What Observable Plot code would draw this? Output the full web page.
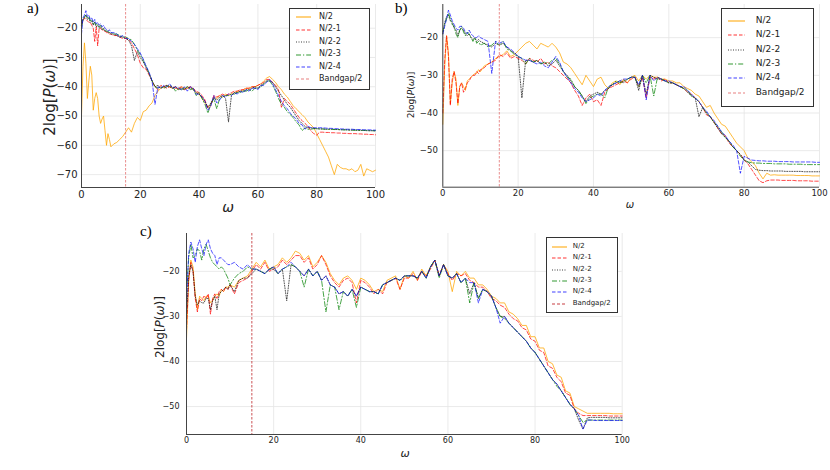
<!DOCTYPE html>
<html><head><meta charset="utf-8">
<script src="https://cdn.jsdelivr.net/npm/d3@7"></script>
<script src="https://cdn.jsdelivr.net/npm/@observablehq/plot@0.6"></script>
<style>
body{margin:0;background:#fff;}
#root{position:relative;width:830px;height:470px;overflow:hidden;font-family:"DejaVu Sans",sans-serif;color:#222;}
.abs{position:absolute;}
.plab{position:absolute;font-family:"Liberation Serif",serif;font-size:15px;color:#000;line-height:1;}
.ylab{position:absolute;transform:translate(-50%,-50%) rotate(-90deg);white-space:nowrap;line-height:1;}
.xlab{position:absolute;transform:translate(-50%,-50%);font-style:italic;line-height:1;}
.legend{position:absolute;border:1px solid #333;background:#fff;box-sizing:border-box;}
.lrow{position:absolute;white-space:nowrap;line-height:1;}
</style></head><body><div id="root"></div>
<script>
// ---------------- data ----------------
const omega = [0,0.5,1,1.5,2,2.5,3,3.5,4,4.5,5,5.5,6,6.5,7,7.5,8,8.5,9,9.5,10,
11,12,13,14,15,16,17,18,19,20,
21,22,23,24,25,26,27,28,29,30,
31,32,33,34,35,36,37,38,39,40,
41,42,43,44,45,46,47,48,49,50,
51,52,53,54,55,56,57,58,59,60,
61,62,63,64,65,66,67,68,69,70,
71,72,73,74,75,76,77,78,79,80,
81,82,83,84,85,86,87,88,89,90,
91,92,93,94,95,96,97,98,99,100];

const seriesNames = ["N/2","N/2-1","N/2-2","N/2-3","N/2-4"];
const bandgapName = "Bandgap/2";
const bandgapHalf = [15];
const xTickValues = [0,20,40,60,80,100];
const aYTicks = [-70,-60,-50,-40,-30,-20];
const bYTicks = [-50,-40,-30,-20];
const cYTicks = [-50,-40,-30,-20];

// panel a
const aN2 = [-50,-33,-25,-32,-44,-38,-33,-36,-48,-44,-42,-44,-50,-52.5,-51,-50,-55,-60,-56,-58,-60.5,
-59.5,-59,-58,-57,-55.5,-54,-55.5,-52.5,-50.5,-51.5,
-48.5,-48,-46.5,-45.5,-43,-41.5,-40.5,-40,-39.5,-40,
-40.5,-40,-41,-40,-40.5,-40.5,-40,-41,-42,-42.5,
-44,-45.5,-47,-46,-43.5,-44,-43,-43.5,-42.5,-43,
-42.5,-42,-41.5,-41.5,-41,-40.5,-40.5,-40,-40,-39.5,
-39,-38,-37,-36.5,-37.5,-38.5,-40,-41,-42.5,-43.5,
-45,-46.5,-47.5,-48.5,-49.5,-50.5,-52,-53,-54,-56,
-58,-60,-62,-64,-67,-70,-66.5,-67.5,-68,-68,
-68.5,-68,-69,-68.5,-66.5,-70.5,-68,-68.5,-69,-68.5];
const aN2m1 = [-19,-17.5,-16.5,-17,-17.5,-18,-18,-19,-20,-24.5,-19.5,-26,-20,-20,-20.5,-21,-21,-21.5,-21.5,-22,-22,
-22.5,-22.5,-23,-23.5,-23.5,-24,-25,-27,-29,-32,
-33.5,-34,-36,-38,-40,-41,-39.5,-40,-40.5,-40,
-40,-40.5,-40.5,-40,-41,-40.5,-40,-40.5,-41.5,-42,
-43,-44.5,-47.5,-46.5,-43,-43.5,-43,-42.5,-43,-42.5,
-42,-41.5,-41.5,-41,-41,-40.5,-40.5,-40,-40,-39.5,
-39,-38.5,-37.5,-37.5,-38.5,-39.5,-41,-47,-44,-45,
-46,-47.5,-49,-50.5,-51.5,-52.5,-53.5,-55,-56,-56.5,
-55.5,-55.5,-55.6,-55.6,-55.7,-55.7,-55.8,-55.8,-55.9,-55.9,
-56,-56,-56,-56.1,-56.1,-56.2,-56.2,-56.3,-56.3,-56.4];
const aN2m2 = [-19,-17,-16.5,-15.5,-17,-16.5,-18,-17.5,-19,-18,-19.5,-19,-20,-19.5,-20.5,-20,-21,-21,-21.5,-21.5,-22,
-22,-22.5,-23,-23,-23.5,-24,-26,-31,-28,-30,
-31.5,-33.5,-35.5,-38,-40,-39.5,-40.5,-40,-39.5,-40,
-40.5,-40,-41,-40.5,-41,-40,-40.5,-41,-42,-42.5,
-43.5,-45,-47,-45.5,-44,-44.5,-43.5,-43,-44,-52,
-43,-42,-42,-41.5,-41.5,-41,-41,-40.5,-40,-40.5,
-39.5,-39,-38,-38,-38.5,-40,-41.5,-43,-44.5,-46,
-47,-48.5,-50,-51.5,-52.5,-53.5,-54,-54,-54.2,-54.3,
-54.4,-54.4,-54.5,-54.5,-54.5,-54.6,-54.6,-54.7,-54.7,-54.7,
-54.8,-54.8,-54.8,-54.9,-54.9,-54.9,-55,-55,-55,-55.1];
const aN2m3 = [-20,-17,-16,-15.5,-16.5,-16,-17.5,-17,-18.5,-18,-19,-18.5,-19.5,-19,-20,-20.5,-20.5,-21,-21,-21.5,-21.5,
-22,-22,-22.5,-23,-23,-23.5,-24,-25.5,-27.5,-29,
-31,-33,-35.5,-38,-40,-40.5,-40,-40.5,-40,-39.5,
-40,-41.5,-40.5,-41,-40.5,-40,-41,-40.5,-43,-42,
-44,-46,-49,-46,-44,-47.5,-44,-43.5,-43,-43,
-42.5,-42.5,-42,-42,-41.5,-41.5,-41,-41.5,-40.5,-40.5,
-40,-39,-38,-38,-39.5,-41.5,-44,-46,-47,-48.5,
-49.5,-50.5,-52,-53,-55,-54,-54.5,-54.5,-54.3,-54.3,
-54.4,-54.4,-54.5,-54.5,-54.5,-54.6,-54.6,-54.6,-54.7,-54.7,
-54.7,-54.8,-54.8,-54.8,-54.9,-54.9,-54.9,-55,-55,-55];
const aN2m4 = [-22,-16.5,-15.5,-14,-16,-15.5,-17,-16.5,-18,-17,-18.5,-18,-19,-18.5,-19.5,-19,-20,-20.5,-21,-20.5,-21.5,
-21.5,-22,-23,-22.5,-23.5,-23.5,-24.5,-25.5,-27,-28.5,
-30.5,-33,-35,-38,-46,-40,-40.5,-39.5,-40,-39,
-40.5,-40,-40.5,-41,-40,-41.5,-40,-40.5,-42.5,-42.5,
-43.5,-45,-48,-46.5,-43,-45.5,-44.5,-43,-43.5,-42.5,
-43,-42,-42.5,-41.5,-42,-41,-41.5,-40.5,-40.5,-41,
-39.5,-39.5,-38.5,-37.5,-39,-41,-43,-45,-46.5,-47.5,
-49,-50,-51,-52.5,-53,-54.5,-53.5,-54,-54,-54,
-54,-54,-54.1,-54.2,-54.2,-54.3,-54.3,-54.4,-54.4,-54.5,
-54.5,-54.5,-54.6,-54.6,-54.6,-54.7,-54.7,-54.7,-54.8,-54.8];

// panel b
const bN2 = [-43,-28,-19.5,-24,-37.5,-32,-29,-31,-38,-33,-32,-33,-34,-31.5,-31,-30.5,-30,-29.5,-29.5,-28.5,-29,
-27.5,-27,-26.5,-25.5,-25,-24.5,-23.5,-25,-24.5,-23.5,
-22.5,-21.5,-21,-22,-23,-21.5,-22,-22.5,-21.5,-22.5,
-24,-26.5,-27,-28,-29.5,-31,-32.5,-30,-31.5,-33,
-31,-30.5,-32.5,-33.5,-32,-31.5,-32.5,-31,-32,-30.5,
-30,-31.5,-30,-31,-30,-30.5,-30.5,-31,-31,-31.5,
-31.5,-32,-32,-33,-33.5,-34,-35,-35.5,-37,-38.5,
-38,-40,-41.5,-43,-43.5,-45,-46.5,-48,-49,-50,
-52,-53,-54,-56,-57.5,-56,-56.5,-56.4,-56.5,-56.5,
-56.5,-56.5,-56.5,-56.6,-56.6,-56.6,-56.6,-56.7,-56.7,-56.7];
const bN2m1 = [-40,-26,-19.5,-25,-38,-31,-29,-32,-37.5,-33,-32,-34.5,-33.5,-32,-31.5,-30.5,-30,-30,-29,-29.5,-28.5,
-28,-27,-26.5,-26,-24.5,-25,-24,-25.5,-25,-25.5,
-26,-27,-25.5,-26,-26.5,-25.5,-27,-26.5,-27.5,-28,
-29,-30,-31,-32,-34,-35.5,-38,-36,-35,-37,
-36.5,-38,-34.5,-33.5,-33,-32.5,-32,-31.5,-32,-31,
-30.5,-33,-30.5,-36,-30.5,-31,-30.5,-31.5,-31,-32,
-32,-32.5,-33,-33.5,-34.5,-35,-36,-37,-38.5,-40.5,
-41,-42.5,-44,-45.5,-46,-48,-49,-50,-51,-52.5,
-53.5,-55,-56.5,-58,-58.5,-58,-57.8,-57.8,-57.8,-57.9,
-57.9,-57.9,-57.9,-58,-58,-58,-58,-58.1,-58.1,-58.1];
const bN2m2 = [-19,-16,-14.5,-14,-15.5,-16,-17.5,-18,-19.5,-18,-17.5,-18,-19,-19.5,-19,-20,-20.5,-20,-21,-20.5,-21,
-21.5,-22,-22.5,-21.5,-22,-21.5,-22.5,-23.5,-24,-25,
-36,-26,-26,-26.5,-26,-27,-26.5,-27.5,-27,-26,
-27.5,-29,-30,-31.5,-33,-34,-35.5,-37,-35.5,-35,
-34.5,-35,-34,-33.5,-32.5,-32,-31.5,-32,-31,-30.5,
-30.5,-34,-30,-35,-30,-30.5,-31,-31,-31.5,-32,
-32,-32.5,-33,-33.5,-34.5,-35.5,-36,-41,-38.5,-40,
-41,-42.5,-44,-45.5,-46.5,-47.5,-49,-50,-51,-52.5,
-53,-54,-55,-55.2,-55.3,-55.3,-55.4,-55.4,-55.4,-55.4,
-55.5,-55.5,-55.5,-55.5,-55.5,-55.6,-55.6,-55.6,-55.6,-55.6];
const bN2m3 = [-18.5,-16.5,-15,-13.5,-15,-16.5,-17,-19,-20,-18,-17,-18.5,-19.5,-18.5,-19,-20,-21,-20,-21.5,-21,-22,
-21.5,-22.5,-22,-21,-22,-21,-23,-23.5,-24.5,-25,
-25.5,-27,-25.5,-26.5,-26,-27,-26.5,-27,-26,-25.5,
-27,-29,-30.5,-31,-33,-34,-35.5,-37.5,-36,-35.5,
-35,-35,-36,-33,-32.5,-31.5,-32,-31.5,-31,-30.5,
-30.5,-33,-30,-32,-30,-35.5,-30.5,-31,-31.5,-32,
-32,-32.5,-33,-33.5,-34,-35.5,-36,-37,-38.5,-40,
-41,-42.5,-43.5,-45,-46.5,-47.5,-49,-50,-51.5,-52.5,
-53,-53.2,-53.3,-53.3,-53.4,-53.4,-53.4,-53.5,-53.5,-53.5,
-53.5,-53.6,-53.6,-53.6,-53.6,-53.7,-53.7,-53.7,-53.7,-53.7];
const bN2m4 = [-19,-17,-15,-12.7,-14,-15.5,-16.5,-17.5,-18,-17,-17,-17.5,-18.5,-19,-18,-19,-19.5,-20,-20,-19.5,-20,
-20.5,-21,-29.5,-21,-21.5,-21,-22.5,-23,-24,-25,
-25.5,-26,-26,-26.5,-27,-26.5,-27.5,-28,-26.5,-25,
-26.5,-29,-30.5,-32,-33.5,-34.5,-36,-37,-36.5,-36,
-35,-35.5,-34,-33,-32.5,-32,-31.5,-31,-31,-30.5,
-30.5,-32.5,-30,-36.5,-30,-31.5,-30.5,-31,-31.5,-31.5,
-32,-32.5,-33,-33,-34,-35,-36,-37,-38.5,-39.5,
-41,-42,-43.5,-45,-46,-47.5,-48.5,-50,-56,-51.5,
-52,-52.5,-52.6,-52.7,-52.7,-52.8,-52.8,-52.8,-52.9,-52.9,
-52.9,-52.9,-53,-53,-53,-53,-53,-53,-53.1,-53.1];

// panel c
const cN2 = [-35,-22,-17.5,-19,-25,-28.5,-25.5,-26,-26.5,-25.5,-25.5,-27,-26.5,-25.5,-25,-25.5,-24,-24.5,-23.5,-23.5,-23,
-23.5,-22,-21.5,-21,-19.5,-18,-19,-17.5,-19.5,-19,
-18.5,-17,-18,-17,-15.5,-16,-17.5,-16.5,-19,-18,
-16.5,-18,-20.5,-22,-23,-21.5,-21,-22,-24,-21.5,
-22,-23,-24.5,-24,-24.5,-22,-21.5,-21,-24,-21,
-21.5,-20,-22,-19.5,-21,-19,-17.5,-21,-18.5,-20,
-24.5,-20,-21,-20,-21.5,-21.5,-23,-23,-24,-25.5,
-26,-27,-27,-29,-29.5,-30.5,-32,-32,-34.5,-34.5,
-37,-37,-40,-40.5,-43,-43.5,-46.5,-47,-50,-50.5,
-51,-51.5,-51.5,-51.5,-51.5,-51.5,-51.5,-51.6,-51.6,-51.6];
const cN2m1 = [-33,-22,-18,-20,-26,-29,-26,-26.5,-25.5,-26,-25,-29.5,-26,-25,-26,-24.5,-24,-24.5,-23.5,-24,-23,
-25,-22.5,-22,-21.5,-20,-18.5,-19.5,-18,-20,-19.5,
-19,-17.5,-18.5,-17.5,-16.5,-16.5,-18,-17,-19.5,-18.5,
-16.5,-18.5,-21,-22.5,-23.5,-22,-21.5,-22.5,-27,-22,
-22.5,-23.5,-25,-24,-25,-22.5,-22,-21.5,-24,-21.5,
-21.5,-20.5,-22,-20,-21,-19.5,-17.5,-21,-18.5,-20.5,
-22,-20.5,-21,-20.5,-22,-22.5,-23.5,-23.5,-24.5,-26,
-26.5,-27.5,-28,-29.5,-30.5,-31,-32.5,-33,-35,-35.5,
-37.5,-38,-41,-41.5,-43.5,-44.5,-47,-47.5,-50.5,-51.5,
-52,-52,-52,-52,-52,-52,-52.1,-52.1,-52.1,-52.1];
const cN2m2 = [-30,-21,-18.5,-20,-25.5,-27.5,-26.5,-27,-27,-26,-26,-28.5,-26.5,-25.5,-28.5,-25,-24.5,-24,-23.5,-24,-23,
-24.5,-22,-21.5,-21.5,-20.5,-19.5,-20,-20.5,-19.5,-19.5,
-20.5,-19.5,-26.5,-18.5,-19,-20,-21,-19.5,-21,-20,
-22,-21,-23,-23.5,-25,-24.5,-25.5,-24,-25.5,-23.5,
-24,-24.5,-24.5,-25,-23,-22.5,-22,-21.5,-22,-21,
-21,-21,-21.5,-20,-21.5,-19,-17.5,-21,-18.5,-21,
-21.5,-20.5,-22.5,-21.5,-25,-22.5,-26,-24,-24.5,-25.5,
-28,-30,-30,-31.5,-32.5,-33.5,-34.5,-35.5,-37,-38,
-39.5,-41,-42.5,-44,-45,-46.5,-48,-49.5,-50.5,-53,
-55,-52.5,-52.4,-52.4,-52.4,-52.4,-52.5,-52.5,-52.5,-52.5];
const cN2m3 = [-25,-17,-14,-17,-16.5,-15,-15.5,-17.5,-15,-14,-15.5,-17,-18,-18.5,-19,-19.5,-19,-19.5,-20.5,-21.5,-23,
-21.5,-20.5,-20,-19,-19.5,-19.5,-20,-20.5,-19.5,-19,
-20.5,-19.5,-19,-18.5,-19,-20,-23.5,-19.5,-21,-20,
-22,-29,-23,-23.5,-28.5,-24.5,-25.5,-24,-28,-23.5,
-24,-24.5,-24.5,-25,-23,-22.5,-22,-21.5,-22,-21,
-21,-21,-21.5,-20,-21.5,-19,-17.5,-21.5,-18.5,-21,
-21.5,-20.5,-22.5,-21.5,-27,-22.5,-26,-24,-24.5,-25.5,
-28,-30,-30.5,-31.5,-32.5,-33.5,-34.5,-35.5,-37,-38,
-39.5,-41,-42.5,-44,-45.5,-46.5,-48,-49.5,-50.5,-52,
-53.5,-53,-53,-53,-53,-53,-53,-53,-53,-53];
const cN2m4 = [-27,-16,-13.5,-15,-18,-14.5,-13,-15,-16.5,-14,-13,-15,-16,-16.5,-18.5,-17,-17,-17.5,-18,-18.5,-18.5,
-18,-19,-19.5,-18.5,-19.5,-19.5,-20,-20.5,-19.5,-19,
-20.5,-19.5,-19,-18,-19,-20,-21,-19.5,-21,-20,
-22,-21,-23,-23.5,-25,-24.5,-25.5,-24,-25.5,-23.5,
-24,-24.5,-24.5,-25,-23,-22.5,-22,-21.5,-22,-21,
-21,-21,-21.5,-20,-21.5,-19,-17.5,-21,-18.5,-21,
-21.5,-20.5,-22.5,-21.5,-22.5,-22.5,-27,-24,-24.5,-25.5,
-28,-31.5,-30,-31.5,-32.5,-33.5,-34.5,-35.5,-37,-38,
-39.5,-41,-42.5,-44,-45,-46.5,-48,-49.5,-50.5,-52,
-55,-53,-53,-53.1,-53.1,-53.1,-53.1,-53.1,-53.1,-53.1];

// ---------------- styling ----------------
const seriesStyle = [
  {stroke:"#FFA500", dash:null, op:0.85},
  {stroke:"#FF0000", dash:"3.5,2", op:0.8},
  {stroke:"#000000", dash:"1,1.5", op:0.75},
  {stroke:"#008000", dash:"5,2,1.2,2", op:0.8},
  {stroke:"#0000FF", dash:"3.5,2", op:0.75}
];

const root = document.getElementById("root");
function el(tag, cls, css, html){
  const e = document.createElement(tag);
  if (cls) e.className = cls;
  Object.assign(e.style, css||{});
  if (html != null) e.innerHTML = html;
  root.appendChild(e);
  return e;
}

function panel(cfg){
  const marks = [
    Plot.gridX(xTickValues, {stroke:"#e4e4e4", strokeOpacity:1, strokeWidth:0.8}),
    Plot.gridY(cfg.yTicks, {stroke:"#e4e4e4", strokeOpacity:1, strokeWidth:0.8})
  ];
  cfg.series.forEach((vals, k) => {
    const rows = omega.map((w, i) => ({w, v: vals[i]}));
    const st = seriesStyle[k];
    marks.push(Plot.line(rows, {x:"w", y:"v", stroke: st.stroke, strokeWidth: cfg.lw,
      strokeOpacity: st.op, strokeDasharray: st.dash || undefined, curve:"linear"}));
  });
  marks.push(Plot.ruleX(bandgapHalf, {stroke: cfg.bandColor, strokeWidth: 0.9, strokeDasharray:"2.5,1.5", strokeOpacity: cfg.bandOp}));
  marks.push(Plot.ruleX([0], {stroke:"#444", strokeWidth:1}));
  marks.push(Plot.ruleY([cfg.yDomain[0]], {stroke:"#444", strokeWidth:1}));
  marks.push(Plot.axisX(xTickValues, {tickSize:0, tickPadding: cfg.xPad, fontSize: cfg.tickFont, label:null}));
  marks.push(Plot.axisY(cfg.yTicks, {tickSize:0, tickPadding: cfg.yPad, fontSize: cfg.tickFont, label:null}));
  const svg = Plot.plot({
    width: cfg.width, height: cfg.height,
    marginLeft: cfg.ml, marginRight: cfg.mr, marginTop: cfg.mt, marginBottom: cfg.mb,
    x: {domain:[0,100]},
    y: {domain: cfg.yDomain},
    style: {fontFamily:"DejaVu Sans, sans-serif", color:"#222", background:"transparent", overflow:"visible"},
    marks
  });
  const holder = el("div", "abs", {left: cfg.left+"px", top: cfg.top+"px"});
  holder.appendChild(svg);
}

function legend(cfg){
  const box = el("div", "legend", {left:cfg.x+"px", top:cfg.y+"px", width:cfg.w+"px", height:cfg.h+"px"});
  const entries = seriesNames.map((n,k)=>({name:n, stroke:seriesStyle[k].stroke, dash:seriesStyle[k].dash, op:seriesStyle[k].op}));
  entries.push({name:bandgapName, stroke:cfg.bandColor, dash:"3,2", op:cfg.bandOp});
  entries.forEach((e,i)=>{
    const cy = cfg.row0 + i*cfg.step - cfg.y - 1;
    const s = document.createElementNS("http://www.w3.org/2000/svg","svg");
    s.setAttribute("width", cfg.sw); s.setAttribute("height", 4);
    s.style.position="absolute"; s.style.left=(cfg.sx - cfg.x - 1)+"px"; s.style.top=(cy-2)+"px";
    const ln = document.createElementNS("http://www.w3.org/2000/svg","line");
    ln.setAttribute("x1",0); ln.setAttribute("x2",cfg.sw); ln.setAttribute("y1",2); ln.setAttribute("y2",2);
    ln.setAttribute("stroke", e.stroke); ln.setAttribute("stroke-width", 1.2);
    ln.setAttribute("stroke-opacity", e.op);
    if (e.dash) ln.setAttribute("stroke-dasharray", e.dash);
    s.appendChild(ln); box.appendChild(s);
    const t = document.createElement("div");
    t.className = "lrow"; t.textContent = e.name;
    Object.assign(t.style, {left:(cfg.tx - cfg.x - 1)+"px", top:(cy - cfg.font*0.55)+"px", fontSize:cfg.font+"px"});
    box.appendChild(t);
  });
}

// panel a
panel({left:0, top:0, width:380, height:215, ml:81, mr:5, mt:4, mb:28,
  yDomain:[-74.4,-11.9], yTicks:aYTicks, tickFont:10, xPad:3, yPad:4, lw:0.9,
  series:[aN2,aN2m1,aN2m2,aN2m3,aN2m4], bandColor:"#e06060", bandOp:0.8});
// panel b
panel({left:395, top:0, width:430, height:215, ml:47.3, mr:6, mt:4, mb:28.3,
  yDomain:[-59.7,-11.2], yTicks:bYTicks, tickFont:8.5, xPad:3, yPad:5, lw:0.9,
  series:[bN2,bN2m1,bN2m2,bN2m3,bN2m4], bandColor:"#e06060", bandOp:0.8});
// panel c
panel({left:130, top:225, width:500, height:245, ml:56, mr:8.3, mt:8, mb:36,
  yDomain:[-56.2,-11.6], yTicks:cYTicks, tickFont:8, xPad:3, yPad:7, lw:0.9,
  series:[cN2,cN2m1,cN2m2,cN2m3,cN2m4], bandColor:"#c0282d", bandOp:0.9});

// panel letters
el("div","plab",{left:"27px", top:"1px"},"a)");
el("div","plab",{left:"395px", top:"1px"},"b)");
el("div","plab",{left:"140px", top:"224px"},"c)");

// axis titles
const yTitle = '2log[<i>P</i>(<i>ω</i>)]';
el("div","ylab",{left:"50px", top:"97px", fontSize:"15px"}, yTitle);
el("div","ylab",{left:"411px", top:"95px", fontSize:"9px"}, yTitle);
el("div","ylab",{left:"160px", top:"327px", fontSize:"12px"}, yTitle);
el("div","xlab",{left:"228px", top:"207px", fontSize:"14px"}, "ω");
el("div","xlab",{left:"630px", top:"205px", fontSize:"10px"}, "ω");
el("div","xlab",{left:"405px", top:"453px", fontSize:"11px"}, "ω");

// legends
legend({x:289, y:8, w:81, h:82, row0:17.3, step:12.4, sx:296, sw:15, tx:319, font:8, bandColor:"#e06060", bandOp:0.8});
legend({x:721, y:8, w:93, h:99, row0:20.7, step:14.4, sx:728, sw:17, tx:755.7, font:9, bandColor:"#e06060", bandOp:0.8});
legend({x:545.7, y:237, w:72.3, h:76, row0:247, step:11.3, sx:551.7, sw:15, tx:572.7, font:7, bandColor:"#c0282d", bandOp:0.9});
</script></body></html>
